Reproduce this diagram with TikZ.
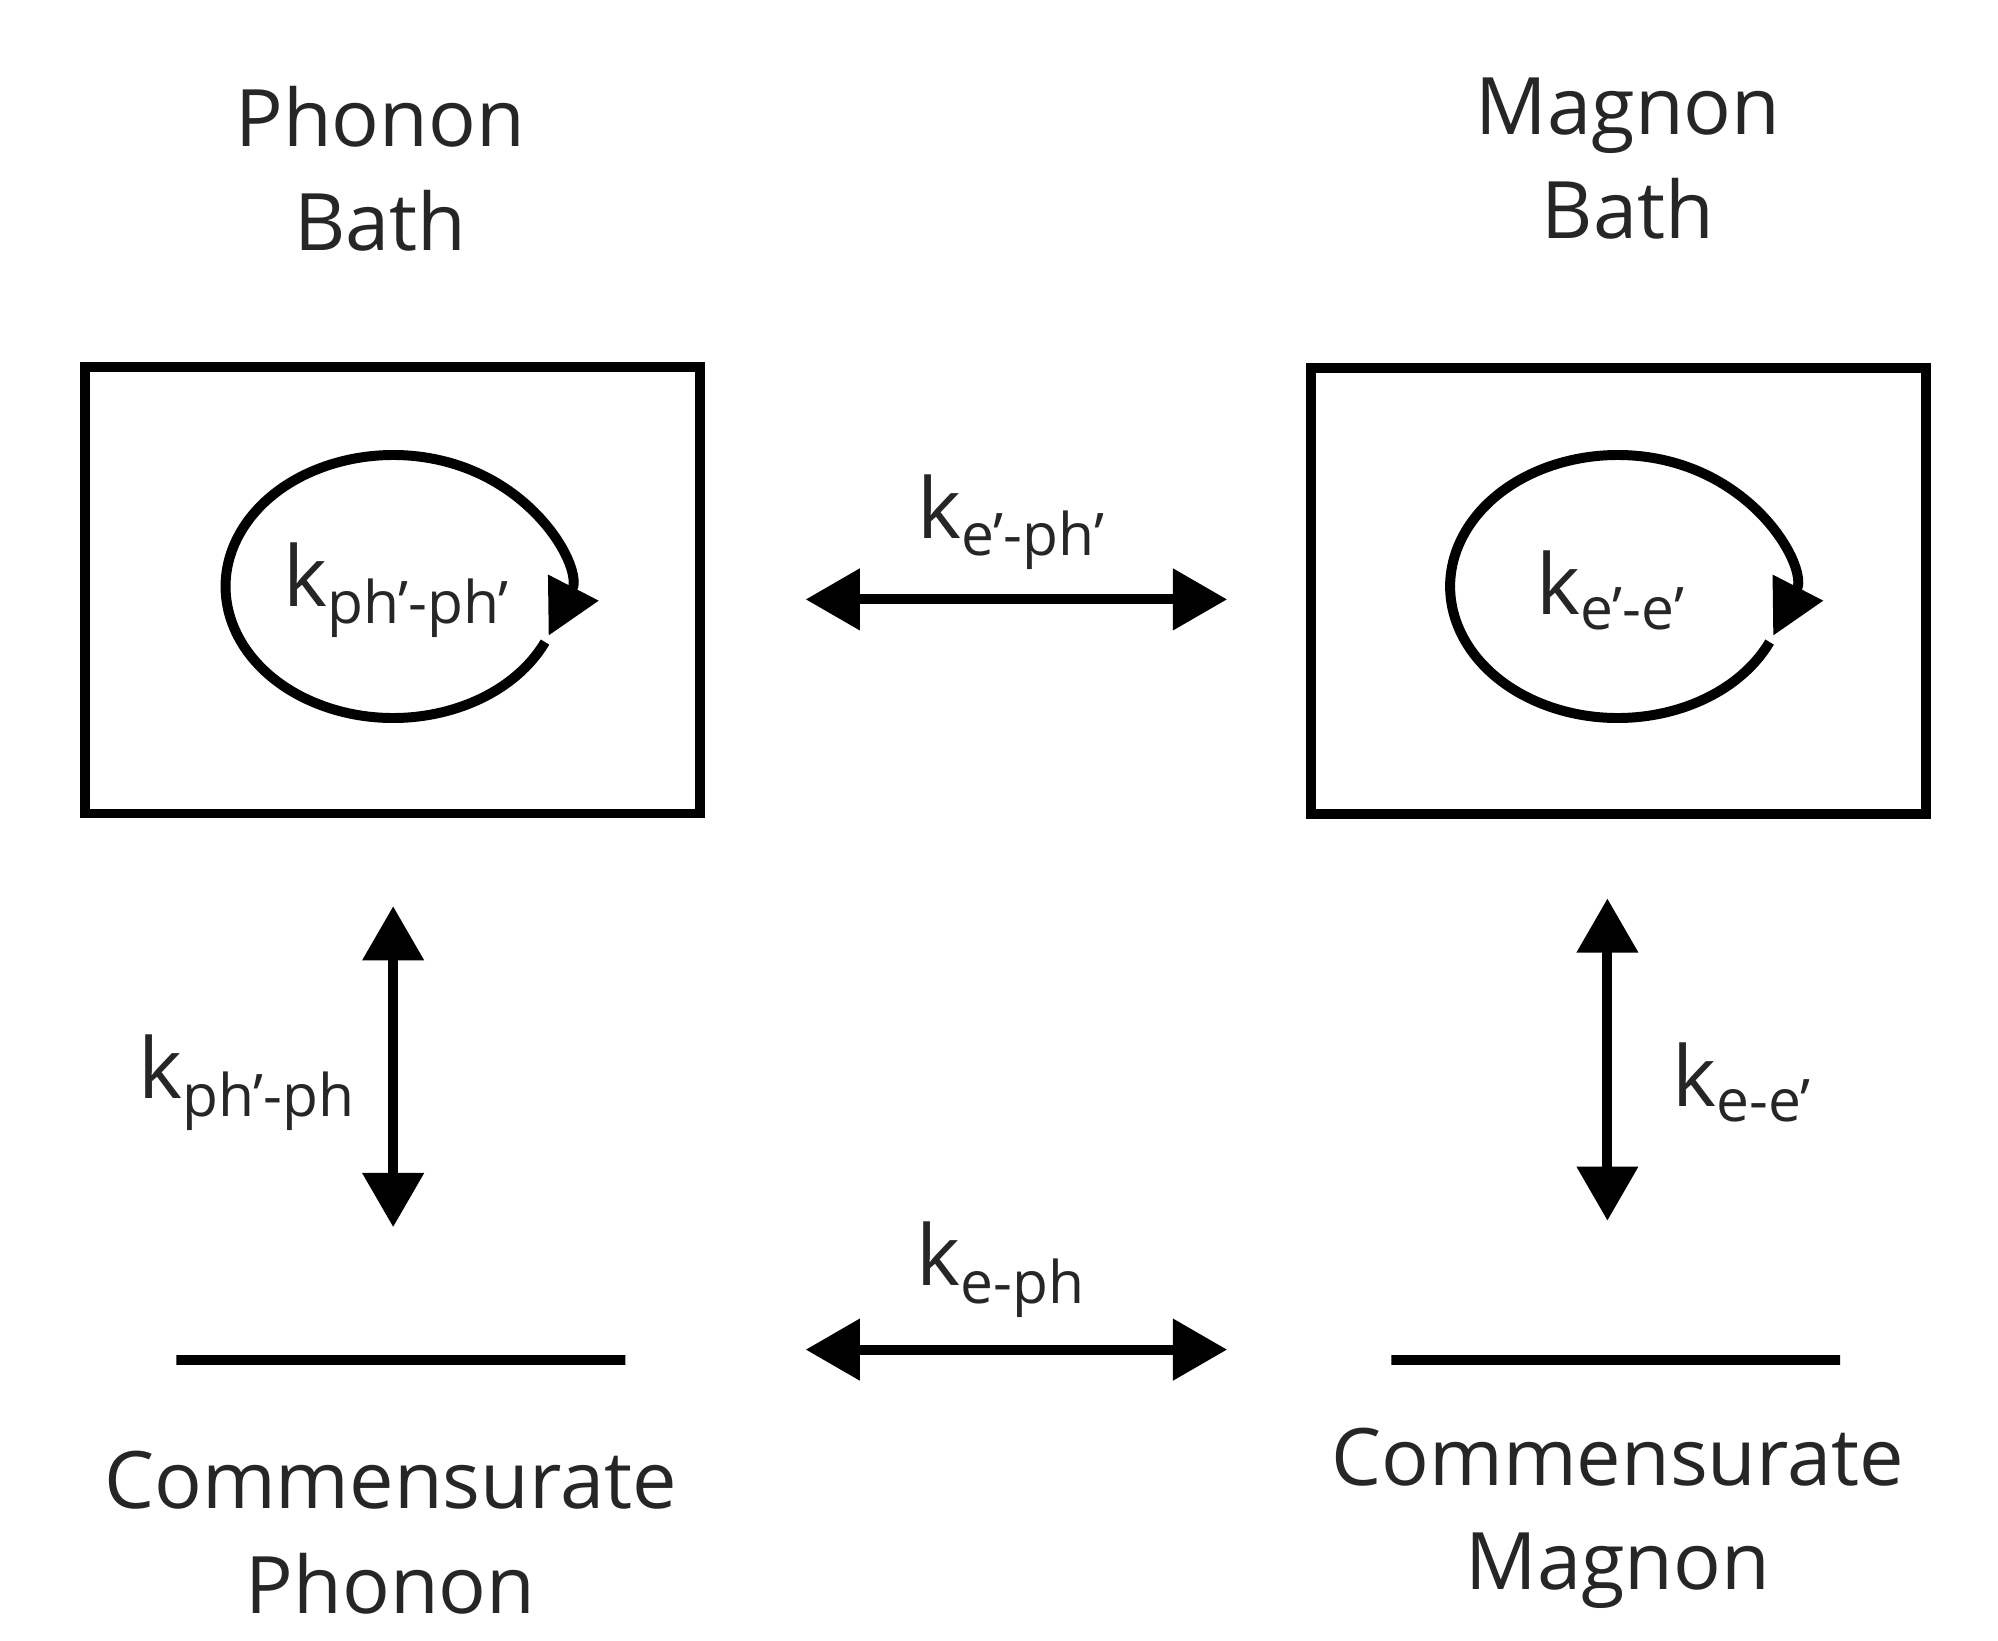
\documentclass[tikz,border=0pt]{standalone}
\usepackage{fontspec}
\setmainfont{Open Sans}
\usetikzlibrary{arrows.meta,positioning}
\newcommand{\pr}{\char"27\relax}
\begin{document}
\begin{tikzpicture}[x=0.01cm,y=-0.01cm,
  bath/.style={draw,line width=2.2pt,minimum width=4.77cm,minimum height=3.46cm,inner sep=0pt},
  level/.style={draw,line width=2.2pt,minimum width=3.48cm,inner sep=0pt,minimum height=0pt},
  title/.style={font=\fontsize{17.5}{23}\selectfont,align=center,text=black!85},
  rate/.style={font=\fontsize{18.5}{23}\selectfont,text=black!85},
  loop/.style={line width=2.2pt,-{Triangle[length=0.42cm,width=0.42cm]}},
  link/.style={line width=2.2pt,{Triangle[length=0.42cm,width=0.46cm]}-{Triangle[length=0.42cm,width=0.46cm]}}]
\useasboundingbox (0,0) rectangle (1550,1273);
% baths
\node[bath] (phb) at (304.5,458) {};
\node[bath] (mgb) at (1255.5,458.5) {};
\node[title] (phbt) at (295,131) {Phonon\\Bath};
\node[title] (mgbt) at (1263,123) {Magnon\\Bath};
% internal loops
\draw[loop] (305,455) ++(25:130 and 102) arc[start angle=25,end angle=382,x radius=130,y radius=102];
\draw[loop] (1255,455) ++(25:130 and 102) arc[start angle=25,end angle=382,x radius=130,y radius=102];
\node[rate] (kpp) at (308,458) {k\textsubscript{ph\pr-ph\pr}};
\node[rate] (kee) at (1250,458) {k\textsubscript{e\pr-e\pr}};
% commensurate levels
\node[level] (phl) at (311,1055) {};
\node[level] (mgl) at (1253.5,1055) {};
\node[title] (phlt) at (303,1189) {Commensurate\\Phonon};
\node[title] (mglt) at (1255,1178) {Commensurate\\Magnon};
% exchange arrows
\coordinate (ta) at (625,465); \coordinate (tb) at (952,465);
\coordinate (ba) at (625,1047); \coordinate (bb) at (952,1047);
\coordinate (la) at (305,703); \coordinate (lb) at (305,952);
\coordinate (ra) at (1247,697); \coordinate (rb) at (1247,947);
\draw[link] (ta) -- (tb);
\draw[link] (ba) -- (bb);
\draw[link] (la) -- (lb);
\draw[link] (ra) -- (rb);
\node[rate] (kep) at (785,405) {k\textsubscript{e\pr-ph\pr}};
\node[rate] (kbp) at (777,985) {k\textsubscript{e-ph}};
\node[rate] (kpl) at (192,840) {k\textsubscript{ph\pr-ph}};
\node[rate] (kel) at (1352,840) {k\textsubscript{e-e\pr}};
\end{tikzpicture}
\end{document}
